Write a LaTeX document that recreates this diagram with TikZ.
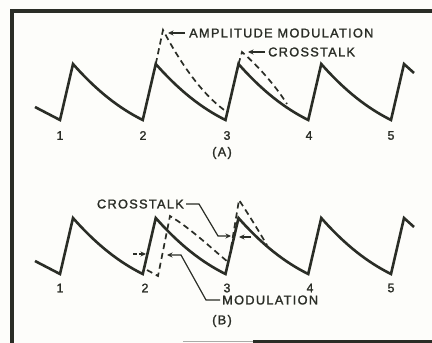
\documentclass[tikz,border=0pt]{standalone}
\usepackage{fontspec}
\setmainfont{Liberation Sans}[LetterSpace=10,FakeBold=1.5]
\usetikzlibrary{arrows.meta}
\definecolor{ink}{HTML}{2A2D26}
\definecolor{paper}{HTML}{FDFDFA}
\begin{document}
\begin{tikzpicture}[x=1pt,y=-1pt,
  wave/.style={draw=ink,line width=2.6pt,line join=miter,line cap=butt},
  dwave/.style={draw=ink,line width=1.7pt,dash pattern=on 6pt off 4pt},
  lead/.style={draw=ink,line width=1.1pt},
  arr/.style={draw=ink,line width=1.2pt,-{Stealth[length=5.5pt,width=5pt]}},
  lbl/.style={inner sep=0pt,text=ink,font=\fontsize{12.8}{14}\selectfont},
  num/.style={inner sep=0pt,text=ink,font=\fontsize{12.4}{14}\selectfont},
  frame/.style={draw=ink,line width=3.5pt}]
\useasboundingbox (0,0) rectangle (432,343);
\fill[paper] (0,0) rectangle (432,343);
% frame
\draw[frame] (10,11) -- (432,11);
\draw[frame] (12,11) -- (12,343);
\draw[draw=ink,line width=2.2pt] (253,341.5) -- (432,341.5);
\draw[draw=ink!40,line width=1pt] (183,341.5) -- (253,341.5);

% ---------- (A) ----------
\draw[wave] (35,107) -- (60,120)
  foreach \i in {0,...,3} { -- ++(13,-56) .. controls +(23.7,26.8) and +(-23.7,-11.8) .. ++(69.75,56) }
  -- ++(13,-56) -- (414,73);
% amplitude modulation (dashed)
\draw[dwave] (155.75,64) -- (163,30) .. controls (183,68) and (205,97) .. (227,112);
% crosstalk (dashed)
\draw[dwave] (238.5,64) -- (242,52) .. controls (258,66) and (275,85) .. (287,104);
\node[lbl,anchor=west] (ampl) at (189,33) {AMPLITUDE MODULATION};
\coordinate (amplTip) at (168,33);
\draw[arr] ([xshift=-4pt]ampl.west) -- (amplTip);
\node[lbl,anchor=west] (ctA) at (268,52) {CROSSTALK};
\coordinate (ctATip) at (248,52);
\draw[arr] ([xshift=-3pt]ctA.west) -- (ctATip);
\node[num] (a1) at (60,135.5) {1};
\node[num] (a2) at (143,135.5) {2};
\node[num] (a3) at (227,135.5) {3};
\node[num] (a4) at (309,135.5) {4};
\node[num] (a5) at (391,135.5) {5};
\node[lbl] (capA) at (222,153) {(A)};

% ---------- (B) ----------
\begin{scope}[shift={(0,154)}]
\draw[wave] (35,107) -- (60,120)
  foreach \i in {0,...,3} { -- ++(13,-56) .. controls +(23.7,26.8) and +(-23.7,-11.8) .. ++(69.75,56) }
  -- ++(13,-56) -- (414,73);
\end{scope}
% modulation (delayed, dashed)
\draw[dwave] (147,270) -- (158,276) -- (170,216) .. controls (190,228) and (210,247) .. (228,262);
% crosstalk (dashed)
\draw[dwave] (231,248) -- (239,200) .. controls (249,215) and (258,230) .. (267,245);
\node[lbl,anchor=east] (ctB) at (184,204) {CROSSTALK};
\coordinate (ctBk1) at (199,204);
\coordinate (ctBk2) at (218,236);
\coordinate (ctBTip) at (231,236);
\draw[arr] ([xshift=2pt]ctB.east) -- (ctBk1) -- (ctBk2) -- (ctBTip);
\coordinate (ctBr) at (251,237);
\coordinate (ctBrTip) at (239,237);
\draw[arr] (ctBr) -- (ctBrTip);
\node[lbl,anchor=west] (modB) at (222,300) {MODULATION};
\coordinate (modk1) at (206,300);
\coordinate (modk2) at (181,255);
\coordinate (modTip) at (167,255);
\draw[arr] ([xshift=-2pt]modB.west) -- (modk1) -- (modk2) -- (modTip);
\coordinate (modl) at (133,254);
\coordinate (modlTip) at (146,254);
\draw[arr,dash pattern=on 4pt off 2pt] (modl) -- (modlTip);
\node[num] (b1) at (60,288) {1};
\node[num] (b2) at (145,288) {2};
\node[num] (b3) at (227,288) {3};
\node[num] (b4) at (310,288) {4};
\node[num] (b5) at (391,288) {5};
\node[lbl] (capB) at (222,321) {(B)};
\end{tikzpicture}
\end{document}
